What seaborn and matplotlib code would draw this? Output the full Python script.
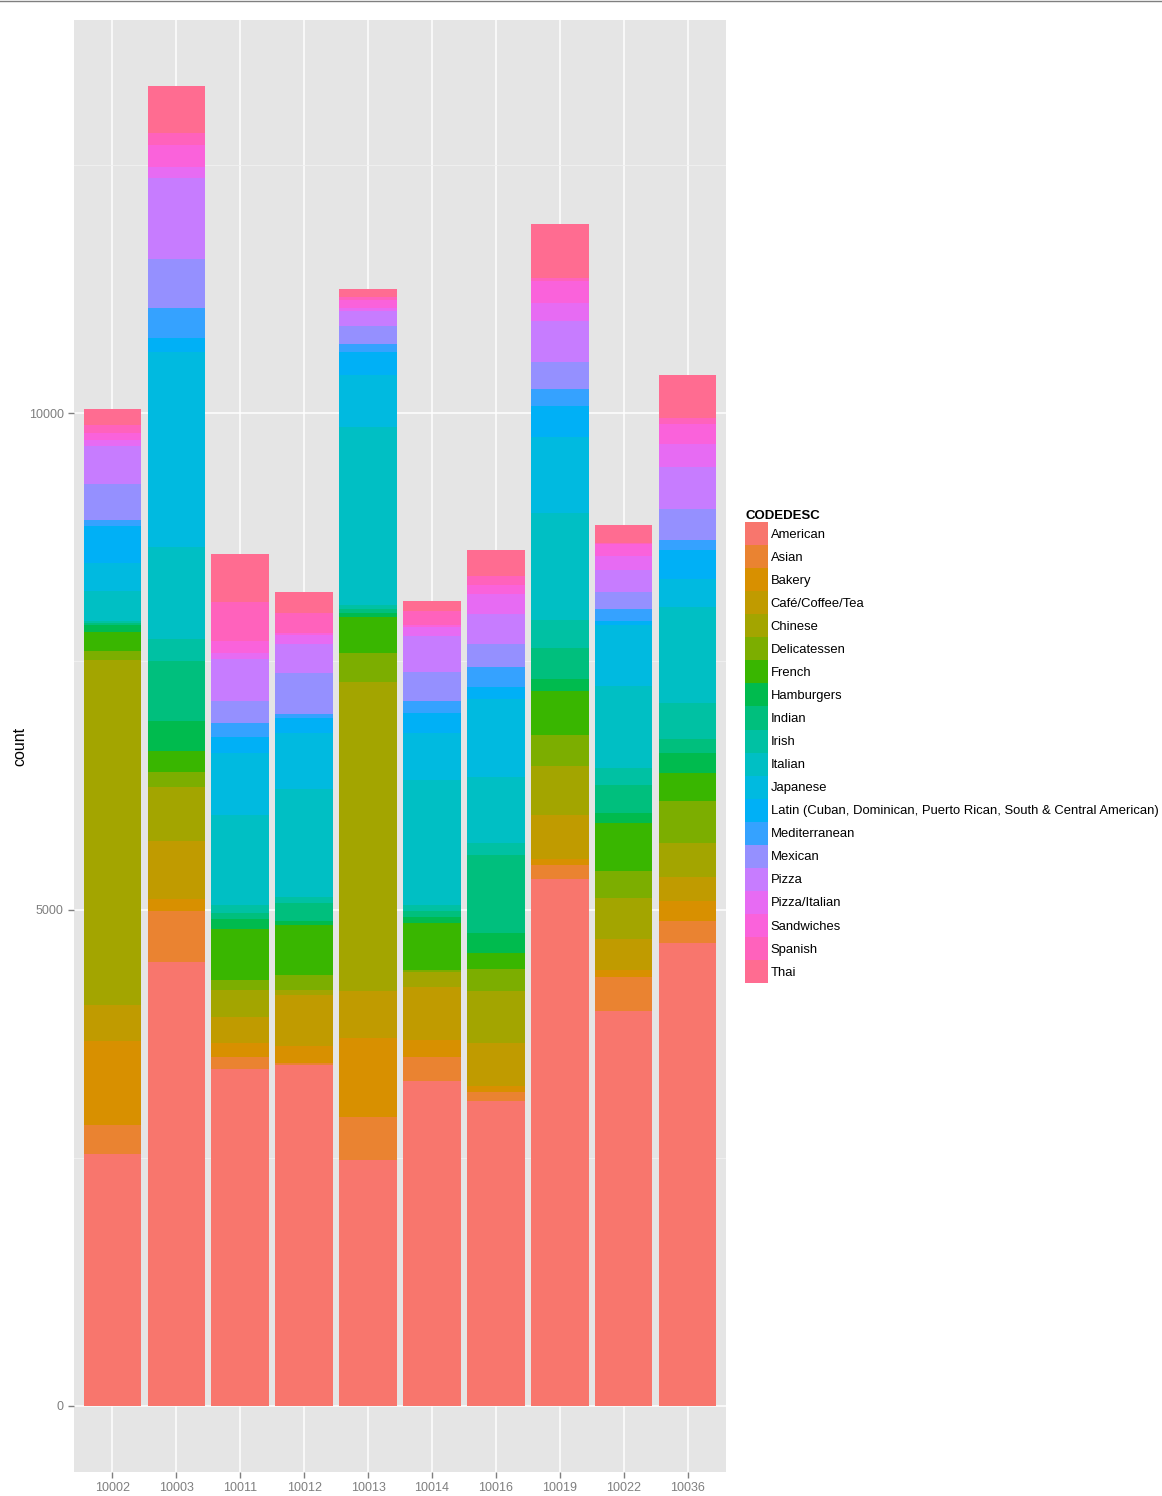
import numpy as np
import pandas as pd
import matplotlib
matplotlib.use('Agg')
import matplotlib.pyplot as plt
from matplotlib.patches import Patch
from matplotlib.lines import Line2D
from matplotlib.ticker import MultipleLocator
import seaborn as sns

# restaurant counts per zip code, one value per cuisine (same order as CUISINES)
ZIPS = ['10002', '10003', '10011', '10012', '10013', '10014', '10016', '10019', '10022', '10036']
CUISINES = ['American', 'Asian', 'Bakery', 'Café/Coffee/Tea', 'Chinese', 'Delicatessen', 'French',
            'Hamburgers', 'Indian', 'Irish', 'Italian', 'Japanese',
            'Latin (Cuban, Dominican, Puerto Rican, South & Central American)', 'Mediterranean',
            'Mexican', 'Pizza', 'Pizza/Italian', 'Sandwiches', 'Spanish', 'Thai']

z10002 = [2543, 290, 839, 370, 3468, 91, 191, 71, 20, 20, 306, 286, 369, 57, 363, 386, 58, 73, 81, 158]
z10003 = [4476, 507, 121, 585, 551, 151, 212, 302, 598, 219, 930, 1966, 138, 303, 494, 816, 114, 222, 118, 474]
z10011 = [3390, 121, 141, 270, 272, 100, 515, 100, 61, 80, 908, 615, 171, 134, 222, 423, 58, 128, 386, 484]
z10012 = [3431, 24, 174, 511, 54, 144, 511, 40, 182, 53, 1089, 571, 142, 40, 416, 290, 97, 21, 197, 209]
z10013 = [2483, 430, 790, 474, 3115, 292, 366, 34, 47, 37, 1798, 520, 229, 81, 181, 154, 25, 83, 33, 78]
z10014 = [3276, 242, 172, 527, 151, 20, 481, 54, 67, 60, 1251, 476, 202, 121, 289, 363, 91, 20, 148, 94]
z10016 = [3068, 97, 58, 429, 532, 221, 162, 194, 787, 121, 665, 793, 114, 202, 229, 302, 202, 94, 94, 255]
z10019 = [5313, 134, 60, 451, 484, 322, 437, 121, 309, 282, 1082, 766, 310, 174, 269, 417, 181, 222, 27, 544]
z10022 = [3975, 343, 74, 309, 420, 272, 477, 101, 289, 162, 826, 618, 40, 121, 169, 222, 141, 121, 10, 184]
z10036 = [4667, 215, 202, 249, 336, 423, 289, 195, 148, 356, 968, 282, 289, 101, 316, 423, 229, 202, 60, 433]

# ggplot2 default hue palette for 20 levels
PALETTE = ['#F8766D', '#EA8331', '#D89000', '#C09B00', '#A3A500', '#7CAE00', '#39B600', '#00BB4E',
           '#00BF7D', '#00C1A3', '#00BFC4', '#00BAE0', '#00B0F6', '#35A2FF', '#9590FF', '#C77CFF',
           '#E76BF3', '#FA62DB', '#FF62BC', '#FF6C91']

counts = pd.DataFrame([z10002, z10003, z10011, z10012, z10013, z10014, z10016, z10019, z10022, z10036],
                      index=ZIPS, columns=CUISINES)
cum = counts.cumsum(axis=1)

plt.rcParams['font.family'] = ['Liberation Sans', 'DejaVu Sans']

W, H = 1162, 1496
fig = plt.figure(figsize=(W / 100, H / 100), dpi=100)
ax = fig.add_axes([74 / W, (H - 1472) / H, 652 / W, 1452 / H])
ax.set_facecolor('#E5E5E5')

# draw stacked bars from the top layer down so lower layers cover upper ones
for i in range(len(CUISINES) - 1, -1, -1):
    df = pd.DataFrame({'ZIP': ZIPS, 'cum': cum.iloc[:, i].values})
    sns.barplot(data=df, x='ZIP', y='cum', color=PALETTE[i], saturation=1, width=0.9,
                linewidth=0, ax=ax, zorder=3, errorbar=None)

ax.set_xlim(-0.6, 9.6)
ax.set_ylim(-665, 13962)
ax.yaxis.set_major_locator(MultipleLocator(5000))
ax.yaxis.set_minor_locator(MultipleLocator(2500))
ax.grid(True, which='major', color='white', linewidth=1.1, zorder=0)
ax.grid(True, which='minor', axis='y', color='#F2F2F2', linewidth=0.6, zorder=0)
ax.set_axisbelow(True)
for s in ax.spines.values():
    s.set_visible(False)
ax.tick_params(axis='both', which='major', colors='#7F7F7F', labelcolor='#7F7F7F',
               length=4, width=1, labelsize=9)
ax.tick_params(axis='y', which='minor', length=0)
ax.set_xlabel('')
ax.set_ylabel('count', fontsize=11.5, color='black', labelpad=1)

handles = [Patch(facecolor=c, edgecolor='none') for c in PALETTE]
leg = fig.legend(handles, CUISINES, loc='upper left', bbox_to_anchor=(745 / W, 1 - 510 / H),
                 frameon=False, title='CODEDESC', fontsize=9.4, title_fontsize=9.5,
                 handlelength=1.78, handleheight=2.34, labelspacing=0, handletextpad=0.2,
                 borderpad=0, borderaxespad=0, alignment='left')
leg.get_title().set_fontweight('bold')

fig.add_artist(Line2D([0, 1], [1 - 0.5 / H, 1 - 0.5 / H], color='#7F7F7F', linewidth=1))

fig.savefig('out.png', dpi=100)
